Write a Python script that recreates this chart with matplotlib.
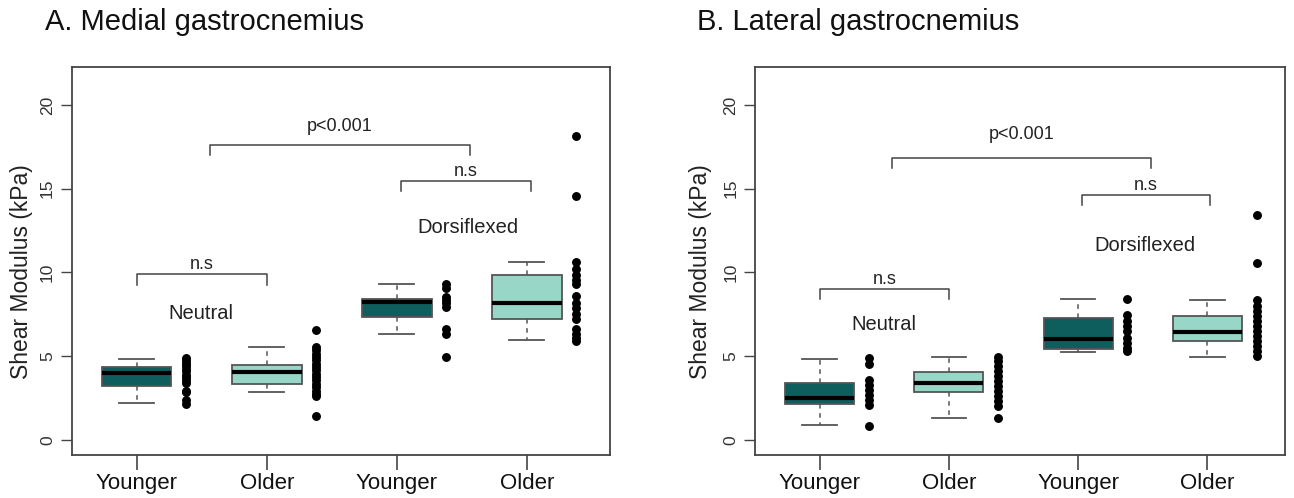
import matplotlib
matplotlib.use("Agg")
import matplotlib.pyplot as plt

plt.rcParams['font.family'] = ['Liberation Sans', 'DejaVu Sans']

# ---------------- data ----------------
categories = ["Younger", "Older", "Younger", "Older"]
panel_titles = ["A. Medial gastrocnemius", "B. Lateral gastrocnemius"]
conditions = ["Neutral", "Dorsiflexed"]

# box statistics: (whisker low, Q1, median, Q3, whisker high)
medial_box = [
    (2.18, 3.21, 4.01, 4.37, 4.82),
    (2.84, 3.33, 4.03, 4.48, 5.52),
    (6.31, 7.34, 8.23, 8.43, 9.33),
    (5.97, 7.24, 8.17, 9.82, 10.61),
]
lateral_box = [
    (0.87, 2.16, 2.50, 3.39, 4.82),
    (1.33, 2.88, 3.37, 4.05, 4.96),
    (5.28, 5.40, 6.03, 7.28, 8.41),
    (4.96, 5.91, 6.47, 7.40, 8.35),
]

# individual data points
medial_young_neutral = [4.9, 4.75, 4.6, 4.45, 4.3, 4.1, 3.9, 3.75, 3.55, 3.4, 2.95, 2.85, 2.4, 2.15]
medial_old_neutral = [6.55, 5.55, 5.35, 5.15, 4.95, 4.75, 4.55, 4.35, 4.15, 3.95, 3.75, 3.55,
                      3.35, 3.15, 2.95, 2.75, 2.6, 1.4]
medial_young_dorsi = [9.3, 9.05, 8.55, 8.35, 8.15, 7.95, 6.6, 6.3, 4.95]
medial_old_dorsi = [18.15, 14.55, 10.6, 10.2, 9.85, 9.55, 9.3, 8.6, 8.15, 7.85, 7.5, 7.2,
                    6.6, 6.35, 6.1, 5.9]

lateral_young_neutral = [4.9, 4.55, 3.6, 3.3, 3.0, 2.7, 2.4, 2.1, 0.85]
lateral_old_neutral = [4.95, 4.7, 4.4, 4.1, 3.8, 3.5, 3.2, 2.9, 2.6, 2.3, 2.05, 1.3]
lateral_young_dorsi = [8.4, 7.45, 7.1, 6.8, 6.5, 6.1, 5.8, 5.5, 5.3]
lateral_old_dorsi = [13.45, 10.55, 8.35, 8.0, 7.7, 7.4, 7.1, 6.8, 6.5, 6.2, 5.9, 5.6, 5.3, 5.0]

medial_points = [medial_young_neutral, medial_old_neutral, medial_young_dorsi, medial_old_dorsi]
lateral_points = [lateral_young_neutral, lateral_old_neutral, lateral_young_dorsi, lateral_old_dorsi]

# significance annotations: (x_start, x_end, y_bar, label, label_y)
medial_brackets = [(1.0, 2.0, 9.88, "n.s", 10.48), (1.56, 3.56, 17.62, "p<0.001", 18.71),
                   (3.03, 4.03, 15.44, "n.s", 16.03)]
lateral_brackets = [(1.0, 2.0, 9.03, "n.s", 9.55), (1.56, 3.56, 16.83, "p<0.001", 18.21),
                    (3.03, 4.02, 14.6, "n.s", 15.2)]
medial_condition_pos = [(1.49, 7.56), (3.55, 12.66)]
lateral_condition_pos = [(1.50, 6.90), (3.52, 11.63)]

dark = "#0F5E5E"
light = "#98D6C7"
fill_colors = [dark, light, dark, light]

fig = plt.figure(figsize=(12.94, 4.98), dpi=100)
W, H = 1294, 498

axes_px = [(71.7, 610.0), (755.0, 1285.0)]
xlims = [(0.5, 4.64), (0.5, 4.60)]
title_x = [45, 697]
ylabel_x = [22, 700]

panels = [
    (medial_box, medial_points, medial_brackets, medial_condition_pos),
    (lateral_box, lateral_points, lateral_brackets, lateral_condition_pos),
]

for k, (boxes, points, brackets, cond_pos) in enumerate(panels):
    x0, x1 = axes_px[k]
    ax = fig.add_axes([x0 / W, 1 - 455 / H, (x1 - x0) / W, (455 - 67.3) / H])
    stats = []
    for (lo, q1, med, q3, hi), lab in zip(boxes, categories):
        stats.append(dict(whislo=lo, q1=q1, med=med, q3=q3, whishi=hi, fliers=[], label=lab))
    positions = [1, 2, 3, 4]
    bp = ax.bxp(stats, positions=positions, widths=0.535, patch_artist=True,
                showfliers=False,
                boxprops=dict(edgecolor="#555555", linewidth=1.3),
                medianprops=dict(color="black", linewidth=3.0, solid_capstyle="butt"),
                whiskerprops=dict(color="#555555", linewidth=1.1, linestyle=(0, (3, 3))),
                capprops=dict(color="#555555", linewidth=1.3))
    for patch, c in zip(bp["boxes"], fill_colors):
        patch.set_facecolor(c)
    for pos, vals in zip(positions, points):
        ax.plot([pos + 0.38] * len(vals), vals, "o", color="black", markersize=5.4,
                linestyle="none", zorder=3)
    for xs, xe, yb, lab, ly in brackets:
        ax.plot([xs, xs, xe, xe], [yb - 0.6, yb, yb, yb - 0.6], color="#444444", linewidth=1.1)
        ax.text((xs + xe) / 2, ly, lab, ha="center", va="center", fontsize=13, color="#222222")
    for (cx, cy), cname in zip(cond_pos, conditions):
        ax.text(cx, cy, cname, ha="center", va="center", fontsize=14.5, color="#222222")

    ax.set_xlim(*xlims[k])
    ax.set_ylim(-0.9, 22.25)
    ax.set_yticks([0, 5, 10, 15, 20])
    ax.set_xticks(positions)
    ax.set_xticklabels(categories, fontsize=16, color="#111111")
    ax.tick_params(axis="x", length=11, width=1.2, color="#444444", pad=2)
    ax.tick_params(axis="y", length=8, width=1.0, color="#444444", pad=4,
                   labelsize=12.5, labelrotation=90, labelcolor="#333333")
    for lbl in ax.get_yticklabels():
        lbl.set_va("center")
    for sp in ax.spines.values():
        sp.set_color("#444444")
        sp.set_linewidth(1.3)

    fig.text(title_x[k] / W, 1 - 22 / H, panel_titles[k], fontsize=21, ha="left", va="center",
             color="#111111")
    fig.text(ylabel_x[k] / W, 1 - 272 / H, "Shear Modulus (kPa)", rotation=90, fontsize=16.5,
             ha="center", va="center", color="#222222")

fig.savefig("out.png", dpi=100)
